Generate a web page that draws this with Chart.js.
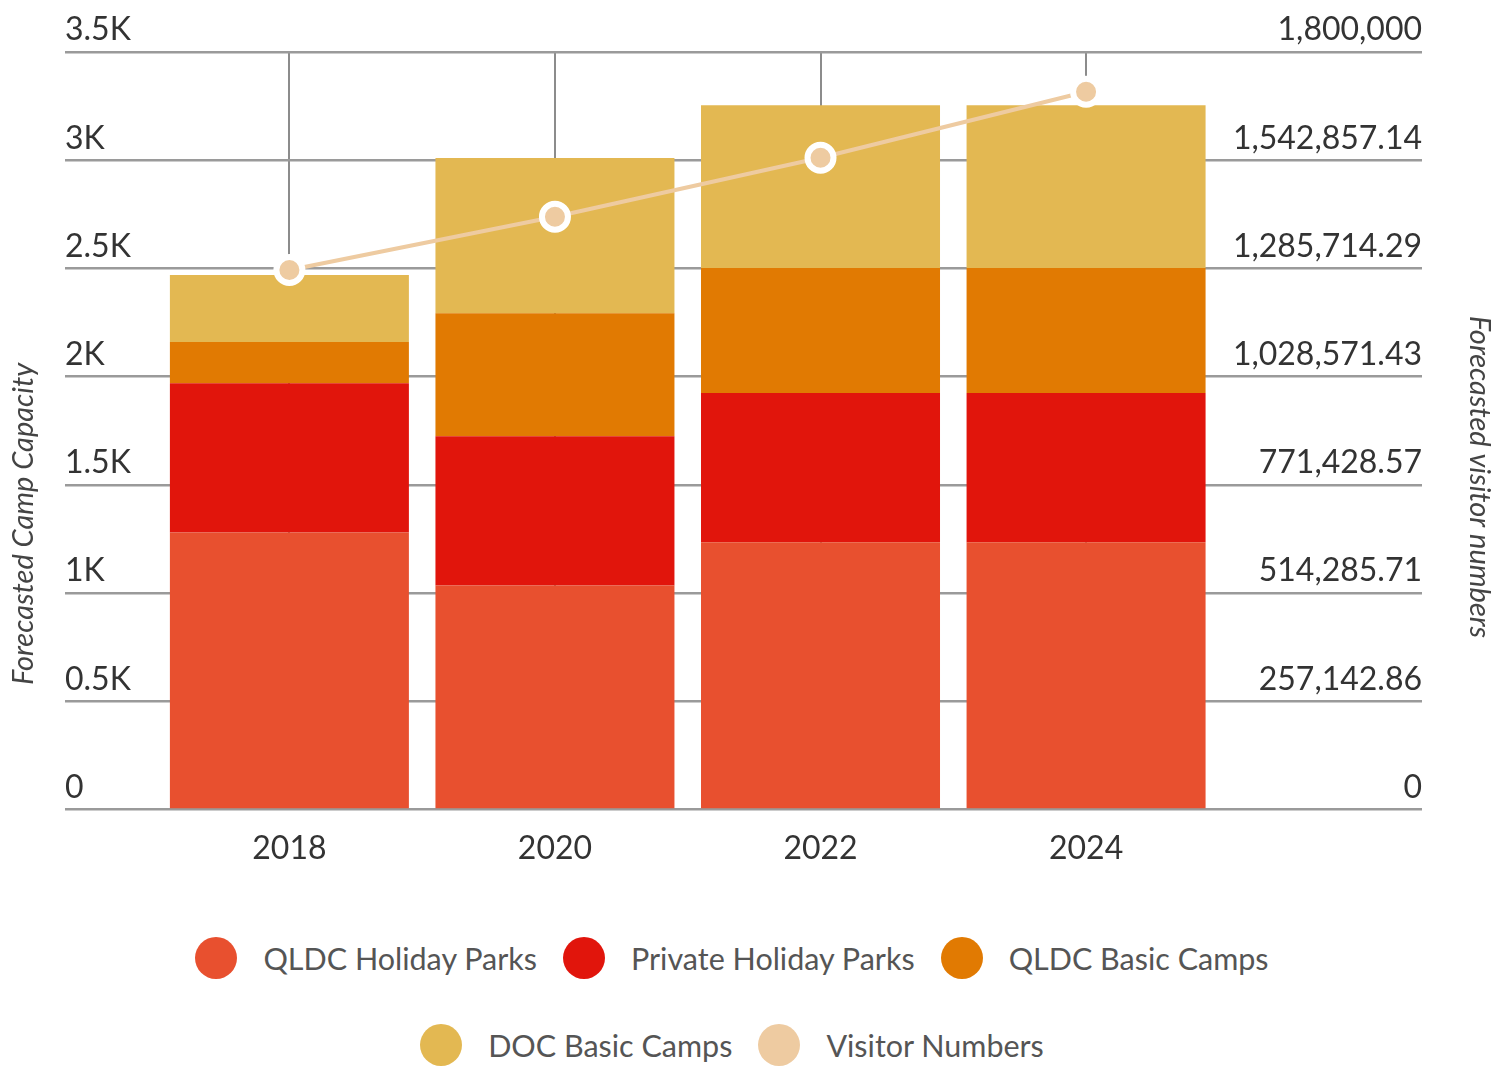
<!DOCTYPE html>
<html>
<head>
<meta charset="utf-8">
<title>Forecasted Camp Capacity</title>
<script src="https://cdn.jsdelivr.net/npm/chart.js@4.4.1/dist/chart.umd.min.js"></script>
<style>
  html, body { margin: 0; padding: 0; background: #ffffff; }
  #wrap { position: relative; width: 1499px; height: 1066px; overflow: hidden; }
  #chartBox { position: absolute; left: 0; top: 0; width: 1499px; height: 900px; }
  #legend {
    position: absolute; left: 132px; width: 1200px; top: 937px;
    display: flex; flex-wrap: wrap; justify-content: center; row-gap: 45px;
    font-family: Lato, sans-serif; font-size: 30.5px; color: #555555;
  }
  .item { display: flex; align-items: center; height: 42px; margin: 0 13px; white-space: nowrap; }
  .dot { width: 42px; height: 42px; border-radius: 50%; margin-right: 26px; flex: none; }
</style>
</head>
<body>
<div id="wrap">
  <div id="chartBox"><canvas id="chart"></canvas></div>
  <div id="legend"></div>
</div>
<script>
// Forecast years
const years = [2018, 2020, 2022, 2024];

// Camp capacity by provider (stacked bars, left axis)
const qldcHolidayParks    = [1280, 1035, 1235, 1235];
const privateHolidayParks = [690, 690, 690, 690];
const qldcBasicCamps      = [190, 568, 577, 577];
const docBasicCamps       = [310, 717, 752, 752];

// Forecasted visitor numbers (line, right axis)
const visitorNumbers = [1282000, 1408600, 1548800, 1705600];

// Axis ranges
const capacityMax = 3500;
const capacityStep = 500;
const visitorMax = 1800000;
const visitorTickCount = 8;

const FONT = 'Lato';
const tickFont = { family: FONT, size: 32 };

// Axis titles, drawn beside the plot area
const axisTitles = {
  id: 'axisTitles',
  afterDraw(chart) {
    const { ctx } = chart;
    ctx.save();
    ctx.font = 'italic 29px ' + FONT;
    ctx.fillStyle = '#444444';
    ctx.textAlign = 'center';
    ctx.textBaseline = 'alphabetic';
    ctx.save();
    ctx.translate(33, 524);
    ctx.rotate(-Math.PI / 2);
    ctx.fillText('Forecasted Camp Capacity', 0, 0);
    ctx.restore();
    ctx.save();
    ctx.translate(1470, 477);
    ctx.rotate(Math.PI / 2);
    ctx.fillText('Forecasted visitor numbers', 0, 0);
    ctx.restore();
    ctx.restore();
  }
};

const barStyle = { order: 1, borderWidth: 0, barPercentage: 0.9, categoryPercentage: 1, yAxisID: 'y' };

const chart = new Chart(document.getElementById('chart'), {
  type: 'bar',
  data: {
    labels: years,
    datasets: [
      { label: 'QLDC Holiday Parks', data: qldcHolidayParks, backgroundColor: '#E8502F', ...barStyle },
      { label: 'Private Holiday Parks', data: privateHolidayParks, backgroundColor: '#E1150C', ...barStyle },
      { label: 'QLDC Basic Camps', data: qldcBasicCamps, backgroundColor: '#E17A02', ...barStyle },
      { label: 'DOC Basic Camps', data: docBasicCamps, backgroundColor: '#E3B852', ...barStyle },
      {
        type: 'line', label: 'Visitor Numbers', data: visitorNumbers, yAxisID: 'y1', order: 0,
        borderColor: '#EECBA1', backgroundColor: '#EECBA1', borderWidth: 4, tension: 0, fill: false,
        pointRadius: 13, pointHoverRadius: 13, pointBorderWidth: 6,
        pointBackgroundColor: '#EECBA1', pointBorderColor: '#FFFFFF'
      }
    ]
  },
  options: {
    responsive: true,
    maintainAspectRatio: false,
    animation: false,
    devicePixelRatio: 1,
    layout: { padding: { left: 65, right: 77, top: 52, bottom: 12 } },
    plugins: {
      legend: { display: false },
      tooltip: { enabled: false }
    },
    scales: {
      x: {
        type: 'linear',
        stacked: true,
        min: 2016.31,
        max: 2026.53,
        offset: false,
        afterBuildTicks: (axis) => { axis.ticks = years.map(v => ({ value: v })); },
        grid: { color: '#8C8C8C', lineWidth: 2, drawTicks: false, offset: false },
        border: { display: false },
        ticks: {
          padding: 20, color: '#333333', font: tickFont,
          autoSkip: false, maxRotation: 0,
          callback: (v) => String(v)
        }
      },
      y: {
        position: 'left',
        stacked: true,
        min: 0,
        max: capacityMax,
        grid: { color: '#9A9A9A', lineWidth: 2.5, drawTicks: false },
        border: { display: false },
        ticks: {
          stepSize: capacityStep, mirror: true, padding: 0, labelOffset: -22,
          color: '#333333', font: tickFont,
          callback: (v) => v === 0 ? '0' : (v / 1000) + 'K'
        }
      },
      y1: {
        position: 'right',
        min: 0,
        max: visitorMax,
        grid: { drawOnChartArea: false, drawTicks: false },
        border: { display: false },
        ticks: {
          count: visitorTickCount, mirror: true, padding: 0, labelOffset: -22,
          color: '#333333', font: tickFont,
          callback: (v) => v.toLocaleString('en-US', { maximumFractionDigits: 2 })
        }
      }
    }
  },
  plugins: [axisTitles]
});

// Legend built from the chart's own legend items
const legendEl = document.getElementById('legend');
const items = chart.options.plugins.legend.labels.generateLabels(chart)
  .sort((a, b) => a.datasetIndex - b.datasetIndex);
items.forEach((it) => {
  const item = document.createElement('div');
  item.className = 'item';
  const dot = document.createElement('span');
  dot.className = 'dot';
  dot.style.background = it.fillStyle;
  const txt = document.createElement('span');
  txt.textContent = it.text;
  item.appendChild(dot);
  item.appendChild(txt);
  legendEl.appendChild(item);
});
</script>
</body>
</html>
